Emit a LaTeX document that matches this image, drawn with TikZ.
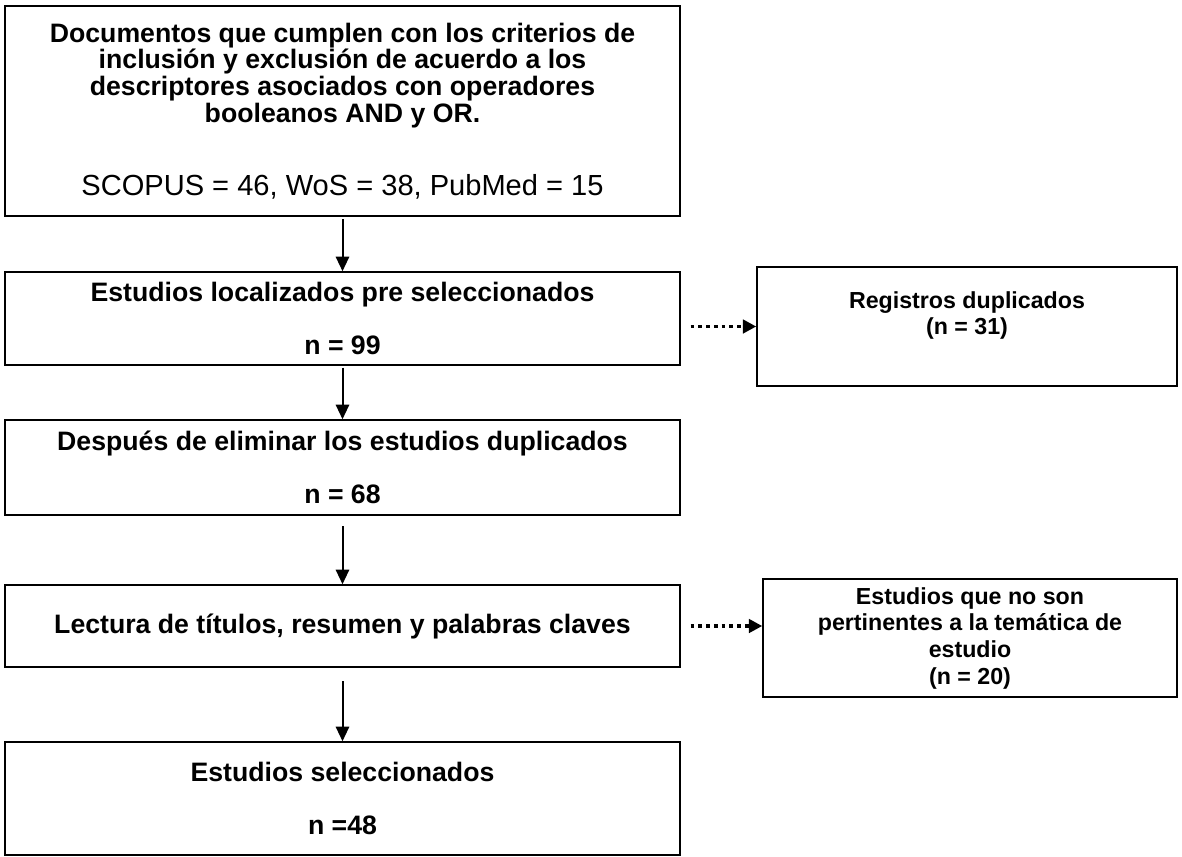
\documentclass[tikz,border=0pt]{standalone}
\usepackage{fontspec}
\setmainfont{Liberation Sans}
\usetikzlibrary{arrows.meta}

\begin{document}
\begin{tikzpicture}[x=0.75pt,y=-0.75pt,
  box/.style={draw, line width=1.1pt, inner sep=0pt, align=center,
    minimum width=506.25pt, font=\bfseries\fontsize{20}{20}\selectfont},
  sidebox/.style={draw, line width=1.1pt, inner sep=0pt, align=center,
    font=\bfseries\fontsize{17.4}{20}\selectfont},
  flow/.style={line width=1.5pt, -{Triangle[length=11pt,width=10pt]}},
  skip/.style={line width=2.8pt, dash pattern=on 2.8pt off 3pt,
    -{Triangle[length=10pt,width=10pt]}}]
\useasboundingbox (0,0) rectangle (1182,857);
\node[box, minimum height=157.5pt] (docs) at (342.5,111) {Documentos que cumplen con los criterios de\\inclusión y exclusión de acuerdo a los\\descriptores asociados con operadores\\booleanos AND y OR.\\[35pt]{\mdseries\fontsize{21.8}{20}\selectfont SCOPUS = 46, WoS = 38, PubMed = 15}};
\node[box, minimum height=69.75pt] (presel) at (342.5,318.5) {Estudios localizados pre seleccionados\\[20pt]n = 99};
\node[box, minimum height=71.25pt] (nodup) at (342.5,467.5) {Después de eliminar los estudios duplicados\\[20pt]n = 68};
\node[box, minimum height=61.5pt] (lectura) at (342.5,626) {Lectura de títulos, resumen y palabras claves};
\node[box, minimum height=84.75pt] (selec) at (342.5,798.5) {Estudios seleccionados\\[20pt]n =48};
\node[sidebox, minimum width=315pt, minimum height=89.25pt] (dup) at (967,326.5) {Registros duplicados\\(n = 31)\\\mbox{}};
\node[sidebox, minimum width=310.5pt, minimum height=88.5pt] (nopert) at (970,638) {Estudios que no son\\pertinentes a la temática de\\estudio\\(n = 20)};
\draw[flow, shorten <=2pt] (docs.south) -- (presel.north);
\draw[flow, shorten <=1.5pt] (presel.south) -- (nodup.north);
\draw[flow, shorten <=8pt] (nodup.south) -- (lectura.north);
\draw[flow, shorten <=10pt] (lectura.south) -- (selec.north);
\draw[skip, shorten <=7.5pt] (presel.east |- dup.west) -- (dup.west);
\draw[skip, shorten <=7.5pt] (lectura.east) -- (nopert.west |- lectura.east);
\end{tikzpicture}
\end{document}
